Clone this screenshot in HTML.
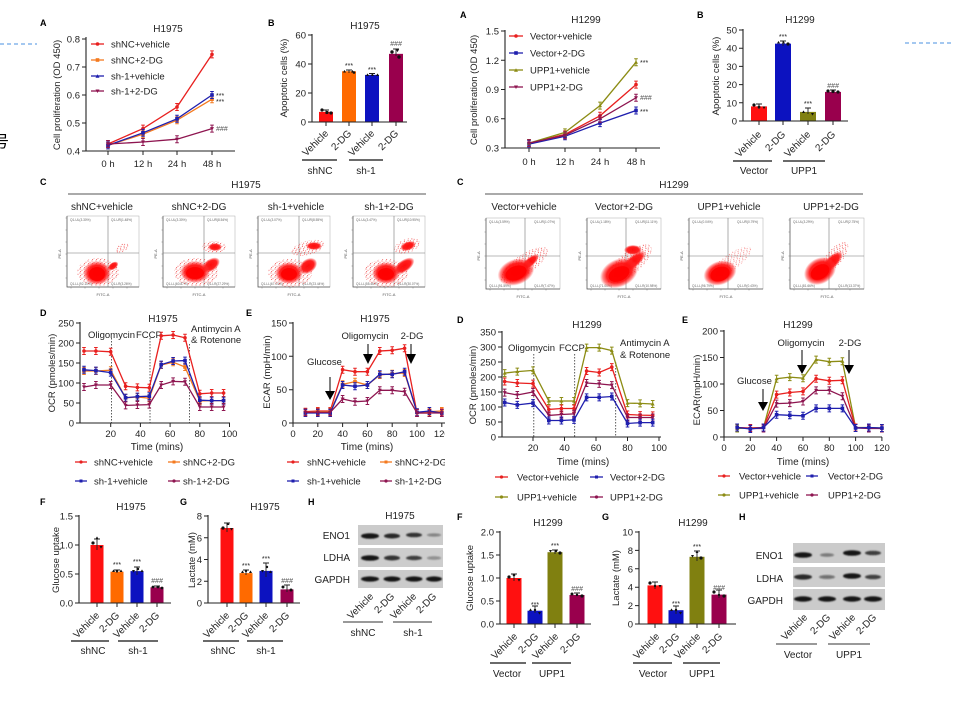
<!DOCTYPE html>
<html><head><meta charset="utf-8"><style>
html,body{margin:0;padding:0;background:#fff;}
svg{display:block;}
text{font-family:"Liberation Sans","Noto Sans CJK SC",sans-serif;fill:#222;}
.t{font-size:10px;}
.tk{font-size:9.5px;}
.lg{font-size:9.5px;}
.pl{font-size:9px;font-weight:bold;fill:#000;}
.st{font-size:7px;}
.hs{font-size:7px;font-style:italic;fill:#555;}
.ax{fill:none;stroke:#222;stroke-width:1.1;}
.q{font-size:3.2px;fill:#666;}
.fa{font-size:4px;fill:#555;}
</style></head><body>
<svg width="953" height="704" viewBox="0 0 953 704" xmlns="http://www.w3.org/2000/svg">
<defs>
<marker id="mR" markerUnits="userSpaceOnUse" markerWidth="10" markerHeight="12" refX="5" refY="6" overflow="visible"><path d="M5,2.5V9.5M3.2,2.5H6.8M3.2,9.5H6.8" stroke="#e8201f" stroke-width="1" fill="none"/><circle cx="5" cy="6" r="1.8" fill="#e8201f"/></marker>
<marker id="mO" markerUnits="userSpaceOnUse" markerWidth="10" markerHeight="12" refX="5" refY="6" overflow="visible"><path d="M5,2.5V9.5M3.2,2.5H6.8M3.2,9.5H6.8" stroke="#f47a1f" stroke-width="1" fill="none"/><rect x="3.2" y="4.2" width="3.6" height="3.6" fill="#f47a1f"/></marker>
<marker id="mB" markerUnits="userSpaceOnUse" markerWidth="10" markerHeight="12" refX="5" refY="6" overflow="visible"><path d="M5,2.5V9.5M3.2,2.5H6.8M3.2,9.5H6.8" stroke="#1f1fae" stroke-width="1" fill="none"/><rect x="3.2" y="4.2" width="3.6" height="3.6" fill="#1f1fae"/></marker>
<marker id="mM" markerUnits="userSpaceOnUse" markerWidth="10" markerHeight="12" refX="5" refY="6" overflow="visible"><path d="M5,2.5V9.5M3.2,2.5H6.8M3.2,9.5H6.8" stroke="#8e1550" stroke-width="1" fill="none"/><path d="M3,4.5H7L5,8z" fill="#8e1550"/></marker>
<marker id="mG" markerUnits="userSpaceOnUse" markerWidth="10" markerHeight="12" refX="5" refY="6" overflow="visible"><path d="M5,2.5V9.5M3.2,2.5H6.8M3.2,9.5H6.8" stroke="#8c8c14" stroke-width="1" fill="none"/><path d="M3,7.5H7L5,4z" fill="#8c8c14"/></marker>
<radialGradient id="blob"><stop offset="0" stop-color="#ff0a0a" stop-opacity="1"/><stop offset="0.65" stop-color="#ff1414" stop-opacity="0.95"/><stop offset="0.85" stop-color="#ff2a2a" stop-opacity="0.55"/><stop offset="1" stop-color="#ff4040" stop-opacity="0"/></radialGradient>
<pattern id="spk" width="4" height="4" patternUnits="userSpaceOnUse"><circle cx="1" cy="1" r="0.5" fill="#e22"/><circle cx="3" cy="2.2" r="0.45" fill="#e22"/><circle cx="1.7" cy="3.5" r="0.45" fill="#e22"/></pattern>
<filter id="bl" x="-20%" y="-50%" width="140%" height="200%"><feGaussianBlur stdDeviation="0.9"/></filter>
<clipPath id="cl"><rect x="0" y="295" width="445" height="210"/></clipPath>
<clipPath id="cl2"><rect x="0" y="495" width="443" height="209"/></clipPath>
</defs>

<!-- misc -->
<line x1="0" y1="44" x2="37" y2="44" stroke="#4a90e2" stroke-width="1" stroke-dasharray="4,3"/>
<line x1="905" y1="43" x2="953" y2="43" stroke="#4a90e2" stroke-width="1" stroke-dasharray="4,3"/>
<text x="-7" y="147" style="font-size:16px;fill:#000">号</text>

<!-- ============ A H1975 ============ -->
<text class="pl" x="40" y="26">A</text>
<text class="t" x="168" y="32" text-anchor="middle">H1975</text>
<path class="ax" d="M86,37V151H235"/>
<g stroke="#222" stroke-width="1"><path d="M82,39H86M82,67H86M82,95H86M82,123H86M82,151H86M108,151V155M143,151V155M177,151V155M212,151V155"/></g>
<g class="tk" text-anchor="end"><text x="80" y="42.5">0.8</text><text x="80" y="70.5">0.7</text><text x="80" y="98.5">0.6</text><text x="80" y="126.5">0.5</text><text x="80" y="154.5">0.4</text></g>
<g class="tk" text-anchor="middle"><text x="108" y="167">0 h</text><text x="143" y="167">12 h</text><text x="177" y="167">24 h</text><text x="212" y="167">48 h</text></g>
<text class="tk" transform="translate(60,95) rotate(-90)" text-anchor="middle">Cell proliferation (OD 450)</text>
<g fill="none" stroke-width="1.3">
<polyline points="108,144 143,128.6 177,107 212,54.4" stroke="#e8201f" marker-start="url(#mR)" marker-mid="url(#mR)" marker-end="url(#mR)"/>
<polyline points="108,145.4 143,134.2 177,120.2 212,99.2" stroke="#f47a1f" marker-start="url(#mO)" marker-mid="url(#mO)" marker-end="url(#mO)"/>
<polyline points="108,145.4 143,132.8 177,118.8 212,95" stroke="#1f1fae" marker-start="url(#mB)" marker-mid="url(#mB)" marker-end="url(#mB)"/>
<polyline points="108,144 143,142 177,139.2 212,128.6" stroke="#8e1550" marker-start="url(#mM)" marker-mid="url(#mM)" marker-end="url(#mM)"/>
</g>
<g stroke-width="1.3">
<line x1="91" y1="44" x2="104" y2="44" stroke="#e8201f"/><circle cx="97.5" cy="44" r="1.8" fill="#e8201f"/>
<line x1="91" y1="60" x2="104" y2="60" stroke="#f47a1f"/><rect x="95.7" y="58.2" width="3.6" height="3.6" fill="#f47a1f"/>
<line x1="91" y1="76" x2="104" y2="76" stroke="#1f1fae"/><path d="M95.5,77.8H99.5L97.5,74.2z" fill="#1f1fae"/>
<line x1="91" y1="91" x2="104" y2="91" stroke="#8e1550"/><path d="M95.5,89.5H99.5L97.5,93z" fill="#8e1550"/>
</g>
<g class="lg"><text x="111" y="47.5">shNC+vehicle</text><text x="111" y="63.5">shNC+2-DG</text><text x="111" y="79.5">sh-1+vehicle</text><text x="111" y="94.5">sh-1+2-DG</text></g>
<text class="st" x="216" y="98">***</text><text class="st" x="216" y="104">***</text><text class="hs" x="216" y="131">###</text>

<!-- ============ B H1975 ============ -->
<text class="pl" x="268" y="26">B</text>
<text class="t" x="365" y="29" text-anchor="middle">H1975</text>
<rect x="319" y="111.9" width="14" height="10.1" fill="#ff1010"/>
<rect x="342" y="71.25" width="14" height="50.75" fill="#ff6a00"/>
<rect x="365" y="74.9" width="14" height="47.1" fill="#0c12c0"/>
<rect x="389" y="53.85" width="14" height="68.15" fill="#99004d"/>
<g stroke="#222" stroke-width="0.9" fill="none"><path d="M326,110V114M323,110H329M349,70V73M346,70H352M372,73.5V76M369,73.5H375M396,49V56M393,49H399"/></g>
<g fill="#111"><circle cx="322" cy="110" r="1.6"/><circle cx="327" cy="112.5" r="1.6"/><circle cx="331" cy="113" r="1.6"/><path d="M343,72.5h3l-1.5,-2.6z"/><path d="M351,72.5h3l-1.5,-2.6z"/><circle cx="354" cy="72.5" r="1.3"/><path d="M366,76h3l-1.5,-2.6z"/><path d="M371,76h3l-1.5,-2.6z"/><path d="M376,76h3l-1.5,-2.6z"/><circle cx="392" cy="52" r="1.7"/><path d="M396,49.5h3l-1.5,2.6z"/><circle cx="399" cy="57" r="1.7"/></g>
<path class="ax" d="M312,34V122H407"/>
<g stroke="#222" stroke-width="1"><path d="M308,35H312M308,64H312M308,93H312M308,122H312M326,122V126M349,122V126M372,122V126M396,122V126"/></g>
<g class="tk" text-anchor="end"><text x="306" y="38.5">60</text><text x="306" y="67.5">40</text><text x="306" y="96.5">20</text><text x="306" y="125.5">0</text></g>
<text class="tk" transform="translate(287,78) rotate(-90)" text-anchor="middle">Apoptotic cells (%)</text>
<g class="t" text-anchor="end"><text transform="translate(329,134) rotate(-45)">Vehicle</text><text transform="translate(352,134) rotate(-45)">2-DG</text><text transform="translate(375,134) rotate(-45)">Vehicle</text><text transform="translate(399,134) rotate(-45)">2-DG</text></g>
<g stroke="#111" stroke-width="1.2"><line x1="302" y1="160" x2="337" y2="160"/><line x1="349" y1="160" x2="383" y2="160"/></g>
<g class="t" text-anchor="middle"><text x="320" y="174">shNC</text><text x="366" y="174">sh-1</text></g>
<text class="st" x="349" y="68" text-anchor="middle">***</text><text class="st" x="372" y="72" text-anchor="middle">***</text><text class="hs" x="396" y="46" text-anchor="middle">###</text>

<!-- ============ A H1299 ============ -->
<text class="pl" x="460" y="18">A</text>
<text class="t" x="586" y="23" text-anchor="middle">H1299</text>
<path class="ax" d="M505,30V148H660"/>
<g stroke="#222" stroke-width="1"><path d="M501,31H505M501,60.25H505M501,89.5H505M501,118.75H505M501,148H505M529,148V152M565,148V152M600,148V152M636,148V152"/></g>
<g class="tk" text-anchor="end"><text x="499" y="34.5">1.5</text><text x="499" y="63.75">1.2</text><text x="499" y="93">0.9</text><text x="499" y="122.25">0.6</text><text x="499" y="151.5">0.3</text></g>
<g class="tk" text-anchor="middle"><text x="529" y="165">0 h</text><text x="565" y="165">12 h</text><text x="600" y="165">24 h</text><text x="636" y="165">48 h</text></g>
<text class="tk" transform="translate(477,90) rotate(-90)" text-anchor="middle">Cell proliferation (OD 450)</text>
<g fill="none" stroke-width="1.3">
<polyline points="529,143.1 565,134.35 600,115.8 636,84.6" stroke="#e8201f" marker-start="url(#mR)" marker-mid="url(#mR)" marker-end="url(#mR)"/>
<polyline points="529,144.1 565,136.3 600,123.1 636,110.5" stroke="#1f1fae" marker-start="url(#mB)" marker-mid="url(#mB)" marker-end="url(#mB)"/>
<polyline points="529,143.1 565,132.4 600,105.6 636,62.2" stroke="#8c8c14" marker-start="url(#mG)" marker-mid="url(#mG)" marker-end="url(#mG)"/>
<polyline points="529,143.1 565,135.3 600,118.75 636,97.8" stroke="#8e1550" marker-start="url(#mM)" marker-mid="url(#mM)" marker-end="url(#mM)"/>
</g>
<g stroke-width="1.3">
<line x1="509" y1="36" x2="523" y2="36" stroke="#e8201f"/><circle cx="516" cy="36" r="1.8" fill="#e8201f"/>
<line x1="509" y1="53" x2="523" y2="53" stroke="#1f1fae"/><rect x="514.2" y="51.2" width="3.6" height="3.6" fill="#1f1fae"/>
<line x1="509" y1="70" x2="523" y2="70" stroke="#8c8c14"/><path d="M514,71.8H518L516,68.2z" fill="#8c8c14"/>
<line x1="509" y1="87" x2="523" y2="87" stroke="#8e1550"/><path d="M514,85.5H518L516,89z" fill="#8e1550"/>
</g>
<g class="lg"><text x="530" y="39.5">Vector+vehicle</text><text x="530" y="56.5">Vector+2-DG</text><text x="530" y="73.5">UPP1+vehicle</text><text x="530" y="90.5">UPP1+2-DG</text></g>
<text class="st" x="640" y="65">***</text><text class="hs" x="640" y="100">###</text><text class="st" x="640" y="114">***</text>

<!-- ============ B H1299 ============ -->
<text class="pl" x="697" y="18">B</text>
<text class="t" x="800" y="23" text-anchor="middle">H1299</text>
<rect x="751" y="106.4" width="16" height="14.6" fill="#ff1010"/>
<rect x="775" y="43.65" width="16" height="77.35" fill="#0c12c0"/>
<rect x="800" y="111.9" width="16" height="9.1" fill="#808010"/>
<rect x="825" y="91.9" width="16" height="29.1" fill="#99004d"/>
<g stroke="#222" stroke-width="0.9" fill="none"><path d="M759,104V109M756,104H762M783,41V46M780,41H786M808,108V114M805,108H811M833,90V93M830,90H836"/></g>
<g fill="#111"><circle cx="754" cy="105" r="1.6"/><circle cx="759" cy="107" r="1.4"/><path d="M762.5,106.5h3l-1.5,2.6z"/><path d="M777,43.5h3l-1.5,-2.6z"/><path d="M782,43.5h3l-1.5,-2.6z"/><circle cx="788" cy="44" r="1.6"/><path d="M802,113h3l-1.5,-2.6z"/><path d="M811,113h3l-1.5,2.6z"/><circle cx="828" cy="91" r="1.6"/><circle cx="833" cy="91.5" r="1.6"/><circle cx="838" cy="92" r="1.6"/></g>
<path class="ax" d="M743,29V121H848"/>
<g stroke="#222" stroke-width="1"><path d="M739,30H743M739,48.2H743M739,66.4H743M739,84.6H743M739,102.8H743M739,121H743M759,121V125M783,121V125M808,121V125M833,121V125"/></g>
<g class="tk" text-anchor="end"><text x="737" y="33.5">50</text><text x="737" y="51.7">40</text><text x="737" y="69.9">30</text><text x="737" y="88.1">20</text><text x="737" y="106.3">10</text><text x="737" y="124.5">0</text></g>
<text class="tk" transform="translate(719,76) rotate(-90)" text-anchor="middle">Apoptotic cells (%)</text>
<g class="t" text-anchor="end"><text transform="translate(762,135) rotate(-45)">Vehicle</text><text transform="translate(786,135) rotate(-45)">2-DG</text><text transform="translate(811,135) rotate(-45)">Vehicle</text><text transform="translate(836,135) rotate(-45)">2-DG</text></g>
<g stroke="#111" stroke-width="1.2"><line x1="733" y1="161" x2="772" y2="161"/><line x1="783" y1="161" x2="825" y2="161"/></g>
<g class="t" text-anchor="middle"><text x="754" y="174">Vector</text><text x="804" y="174">UPP1</text></g>
<text class="st" x="783" y="39" text-anchor="middle">***</text><text class="st" x="808" y="106" text-anchor="middle">***</text><text class="hs" x="833" y="88" text-anchor="middle">###</text>

<!-- ============ C H1975 ============ -->
<text class="pl" x="40" y="185">C</text>
<text class="t" x="246" y="188" text-anchor="middle">H1975</text>
<line x1="68" y1="194" x2="426" y2="194" stroke="#555" stroke-width="1"/>
<g class="t" text-anchor="middle"><text x="102" y="210">shNC+vehicle</text><text x="199" y="210">shNC+2-DG</text><text x="296" y="210">sh-1+vehicle</text><text x="389" y="210">sh-1+2-DG</text></g>

<!-- box 1 -->
<g transform="translate(67,216)">
<rect x="0" y="0" width="72" height="71" fill="none" stroke="#aaa" stroke-width="0.5"/>
<path d="M0,0V71H72" fill="none" stroke="#555" stroke-width="0.7"/>
<path d="M41,0V71M0,37H72" stroke="#777" stroke-width="0.6"/>
<path d="M-1.5,2H0M-1.5,14H0M-1.5,26H0M-1.5,38H0M-1.5,50H0M-1.5,62H0M4,71V72.5M18,71V72.5M32,71V72.5M46,71V72.5M60,71V72.5" stroke="#777" stroke-width="0.5"/>
<text class="q" x="3" y="5">Q1-UL(3.30%)</text><text class="q" x="44" y="5">Q1-UR(1.48%)</text><text class="q" x="3" y="69">Q1-LL(92.10%)</text><text class="q" x="44" y="69">Q1-LR(3.26%)</text>
<text class="fa" x="36" y="80" text-anchor="middle">FITC-A</text><text class="fa" transform="translate(-6,38) rotate(-90)" text-anchor="middle">PE-A</text>
<ellipse cx="55" cy="32" rx="7" ry="4" fill="url(#spk)" transform="rotate(-30 55 32)"/>
<ellipse cx="46" cy="50" rx="6" ry="3.5" fill="url(#blob)" transform="rotate(-35 46 50)"/>
<ellipse cx="31" cy="56" rx="21" ry="14" fill="url(#spk)"/>
<ellipse cx="30" cy="57" rx="14" ry="12" fill="url(#blob)"/>
<ellipse cx="30" cy="58" rx="8" ry="7" fill="#f00" opacity="0.9"/>
</g>
<!-- box 2 -->
<g transform="translate(163,216)">
<rect x="0" y="0" width="72" height="71" fill="none" stroke="#aaa" stroke-width="0.5"/>
<path d="M0,0V71H72" fill="none" stroke="#555" stroke-width="0.7"/>
<path d="M41,0V71M0,37H72" stroke="#777" stroke-width="0.6"/>
<path d="M-1.5,2H0M-1.5,14H0M-1.5,26H0M-1.5,38H0M-1.5,50H0M-1.5,62H0M4,71V72.5M18,71V72.5M32,71V72.5M46,71V72.5M60,71V72.5" stroke="#777" stroke-width="0.5"/>
<text class="q" x="3" y="5">Q1-UL(3.30%)</text><text class="q" x="44" y="5">Q1-UR(8.54%)</text><text class="q" x="3" y="69">Q1-LL(60.87%)</text><text class="q" x="44" y="69">Q1-LR(27.29%)</text>
<text class="fa" x="36" y="80" text-anchor="middle">FITC-A</text><text class="fa" transform="translate(-6,38) rotate(-90)" text-anchor="middle">PE-A</text>
<ellipse cx="51" cy="31" rx="12" ry="6" fill="url(#spk)"/>
<ellipse cx="52" cy="31" rx="7" ry="4" fill="url(#blob)"/>
<ellipse cx="48" cy="49" rx="10" ry="6" fill="url(#blob)" transform="rotate(-35 48 49)"/>
<ellipse cx="33" cy="56" rx="22" ry="14" fill="url(#spk)"/>
<ellipse cx="32" cy="56" rx="15" ry="11" fill="url(#blob)"/>
<ellipse cx="32" cy="57" rx="9" ry="6" fill="#f00" opacity="0.9"/>
</g>
<!-- box 3 -->
<g transform="translate(258,216)">
<rect x="0" y="0" width="72" height="71" fill="none" stroke="#aaa" stroke-width="0.5"/>
<path d="M0,0V71H72" fill="none" stroke="#555" stroke-width="0.7"/>
<path d="M41,0V71M0,37H72" stroke="#777" stroke-width="0.6"/>
<path d="M-1.5,2H0M-1.5,14H0M-1.5,26H0M-1.5,38H0M-1.5,50H0M-1.5,62H0M4,71V72.5M18,71V72.5M32,71V72.5M46,71V72.5M60,71V72.5" stroke="#777" stroke-width="0.5"/>
<text class="q" x="3" y="5">Q1-UL(3.07%)</text><text class="q" x="44" y="5">Q1-UR(8.55%)</text><text class="q" x="3" y="69">Q1-LL(67.04%)</text><text class="q" x="44" y="69">Q1-LR(23.44%)</text>
<text class="fa" x="36" y="80" text-anchor="middle">FITC-A</text><text class="fa" transform="translate(-6,38) rotate(-90)" text-anchor="middle">PE-A</text>
<ellipse cx="50" cy="32" rx="17" ry="7" fill="url(#spk)" transform="rotate(-15 50 32)"/>
<ellipse cx="56" cy="30" rx="8" ry="4" fill="url(#blob)"/>
<ellipse cx="50" cy="50" rx="10" ry="7" fill="url(#blob)" transform="rotate(-35 50 50)"/>
<ellipse cx="32" cy="57" rx="22" ry="14" fill="url(#spk)"/>
<ellipse cx="31" cy="57" rx="14" ry="11" fill="url(#blob)"/>
<ellipse cx="31" cy="58" rx="8" ry="6" fill="#f00" opacity="0.9"/>
</g>
<!-- box 4 -->
<g transform="translate(353,216)">
<rect x="0" y="0" width="72" height="71" fill="none" stroke="#aaa" stroke-width="0.5"/>
<path d="M0,0V71H72" fill="none" stroke="#555" stroke-width="0.7"/>
<path d="M41,0V71M0,37H72" stroke="#777" stroke-width="0.6"/>
<path d="M-1.5,2H0M-1.5,14H0M-1.5,26H0M-1.5,38H0M-1.5,50H0M-1.5,62H0M4,71V72.5M18,71V72.5M32,71V72.5M46,71V72.5M60,71V72.5" stroke="#777" stroke-width="0.5"/>
<text class="q" x="3" y="5">Q1-UL(3.47%)</text><text class="q" x="44" y="5">Q1-UR(10.95%)</text><text class="q" x="3" y="69">Q1-LL(55.46%)</text><text class="q" x="44" y="69">Q1-LR(30.07%)</text>
<text class="fa" x="36" y="80" text-anchor="middle">FITC-A</text><text class="fa" transform="translate(-6,38) rotate(-90)" text-anchor="middle">PE-A</text>
<ellipse cx="54" cy="30" rx="13" ry="7" fill="url(#spk)" transform="rotate(-20 54 30)"/>
<ellipse cx="55" cy="30" rx="8" ry="4.5" fill="url(#blob)" transform="rotate(-20 55 30)"/>
<ellipse cx="51" cy="50" rx="12" ry="6" fill="url(#blob)" transform="rotate(-35 51 50)"/>
<ellipse cx="33" cy="57" rx="22" ry="14" fill="url(#spk)"/>
<ellipse cx="33" cy="57" rx="14" ry="11" fill="url(#blob)"/>
<ellipse cx="33" cy="58" rx="8" ry="6" fill="#f00" opacity="0.9"/>
</g>

<!-- ============ C H1299 ============ -->
<text class="pl" x="457" y="185">C</text>
<text class="t" x="674" y="188" text-anchor="middle">H1299</text>
<line x1="485" y1="194" x2="863" y2="194" stroke="#555" stroke-width="1"/>
<g class="t" text-anchor="middle"><text x="524" y="210">Vector+vehicle</text><text x="624" y="210">Vector+2-DG</text><text x="729" y="210">UPP1+vehicle</text><text x="831" y="210">UPP1+2-DG</text></g>
<g transform="translate(486,218)">
<rect x="0" y="0" width="74" height="71" fill="none" stroke="#aaa" stroke-width="0.5"/>
<path d="M0,0V71H74" fill="none" stroke="#555" stroke-width="0.7"/>
<path d="M39,0V71M0,38H74" stroke="#777" stroke-width="0.6"/>
<path d="M-1.5,2H0M-1.5,14H0M-1.5,26H0M-1.5,38H0M-1.5,50H0M-1.5,62H0M4,71V72.5M18,71V72.5M32,71V72.5M46,71V72.5M60,71V72.5" stroke="#777" stroke-width="0.5"/>
<text class="q" x="3" y="5">Q1-UL(3.59%)</text><text class="q" x="48" y="5">Q1-UR(1.07%)</text><text class="q" x="3" y="69">Q1-LL(91.59%)</text><text class="q" x="48" y="69">Q1-LR(7.47%)</text>
<text class="fa" x="37" y="80" text-anchor="middle">FITC-A</text><text class="fa" transform="translate(-6,38) rotate(-90)" text-anchor="middle">PE-A</text>
<ellipse cx="38" cy="47" rx="28" ry="10" fill="url(#spk)" transform="rotate(-35 38 47)"/>
<ellipse cx="44" cy="44" rx="11" ry="4.5" fill="url(#blob)" transform="rotate(-40 44 44)"/>
<ellipse cx="30" cy="54" rx="19" ry="13" fill="url(#blob)" transform="rotate(-20 30 54)"/>
<ellipse cx="30" cy="55" rx="11" ry="7" fill="#f00" opacity="0.9" transform="rotate(-20 30 55)"/>
</g>
<g transform="translate(587,218)">
<rect x="0" y="0" width="74" height="71" fill="none" stroke="#aaa" stroke-width="0.5"/>
<path d="M0,0V71H74" fill="none" stroke="#555" stroke-width="0.7"/>
<path d="M39,0V71M0,38H74" stroke="#777" stroke-width="0.6"/>
<path d="M-1.5,2H0M-1.5,14H0M-1.5,26H0M-1.5,38H0M-1.5,50H0M-1.5,62H0M4,71V72.5M18,71V72.5M32,71V72.5M46,71V72.5M60,71V72.5" stroke="#777" stroke-width="0.5"/>
<text class="q" x="3" y="5">Q1-UL(1.18%)</text><text class="q" x="48" y="5">Q1-UR(11.11%)</text><text class="q" x="3" y="69">Q1-LL(71.00%)</text><text class="q" x="48" y="69">Q1-LR(10.98%)</text>
<text class="fa" x="37" y="80" text-anchor="middle">FITC-A</text><text class="fa" transform="translate(-6,38) rotate(-90)" text-anchor="middle">PE-A</text>
<ellipse cx="46" cy="32" rx="9" ry="5" fill="url(#blob)"/>
<ellipse cx="42" cy="46" rx="28" ry="11" fill="url(#spk)" transform="rotate(-40 42 46)"/>
<ellipse cx="46" cy="44" rx="16" ry="6" fill="url(#blob)" transform="rotate(-40 46 44)"/>
<ellipse cx="32" cy="55" rx="20" ry="14" fill="url(#blob)" transform="rotate(-25 32 55)"/>
<ellipse cx="32" cy="56" rx="11" ry="7" fill="#f00" opacity="0.9" transform="rotate(-25 32 56)"/>
</g>
<g transform="translate(689,218)">
<rect x="0" y="0" width="74" height="71" fill="none" stroke="#aaa" stroke-width="0.5"/>
<path d="M0,0V71H74" fill="none" stroke="#555" stroke-width="0.7"/>
<path d="M39,0V71M0,38H74" stroke="#777" stroke-width="0.6"/>
<path d="M-1.5,2H0M-1.5,14H0M-1.5,26H0M-1.5,38H0M-1.5,50H0M-1.5,62H0M4,71V72.5M18,71V72.5M32,71V72.5M46,71V72.5M60,71V72.5" stroke="#777" stroke-width="0.5"/>
<text class="q" x="3" y="5">Q1-UL(0.04%)</text><text class="q" x="48" y="5">Q1-UR(0.79%)</text><text class="q" x="3" y="69">Q1-LL(96.79%)</text><text class="q" x="48" y="69">Q1-LR(0.43%)</text>
<text class="fa" x="37" y="80" text-anchor="middle">FITC-A</text><text class="fa" transform="translate(-6,38) rotate(-90)" text-anchor="middle">PE-A</text>
<ellipse cx="42" cy="44" rx="24" ry="8" fill="url(#spk)" transform="rotate(-35 42 44)" opacity="0.7"/>
<ellipse cx="31" cy="55" rx="17" ry="12" fill="url(#blob)" transform="rotate(-20 31 55)"/>
<ellipse cx="31" cy="56" rx="10" ry="7" fill="#f00" opacity="0.9" transform="rotate(-20 31 56)"/>
</g>
<g transform="translate(790,218)">
<rect x="0" y="0" width="74" height="71" fill="none" stroke="#aaa" stroke-width="0.5"/>
<path d="M0,0V71H74" fill="none" stroke="#555" stroke-width="0.7"/>
<path d="M39,0V71M0,38H74" stroke="#777" stroke-width="0.6"/>
<path d="M-1.5,2H0M-1.5,14H0M-1.5,26H0M-1.5,38H0M-1.5,50H0M-1.5,62H0M4,71V72.5M18,71V72.5M32,71V72.5M46,71V72.5M60,71V72.5" stroke="#777" stroke-width="0.5"/>
<text class="q" x="3" y="5">Q1-UL(3.29%)</text><text class="q" x="48" y="5">Q1-UR(2.75%)</text><text class="q" x="3" y="69">Q1-LL(81.66%)</text><text class="q" x="48" y="69">Q1-LR(13.37%)</text>
<text class="fa" x="37" y="80" text-anchor="middle">FITC-A</text><text class="fa" transform="translate(-6,38) rotate(-90)" text-anchor="middle">PE-A</text>
<ellipse cx="44" cy="40" rx="20" ry="8" fill="url(#spk)" transform="rotate(-50 44 40)"/>
<ellipse cx="42" cy="44" rx="14" ry="6" fill="url(#blob)" transform="rotate(-45 42 44)"/>
<ellipse cx="30" cy="53" rx="17" ry="13" fill="url(#blob)" transform="rotate(-30 30 53)"/>
<ellipse cx="30" cy="54" rx="10" ry="7" fill="#f00" opacity="0.9" transform="rotate(-30 30 54)"/>
</g>

<!-- ============ D / E H1975 ============ -->
<g clip-path="url(#cl)">
<text class="pl" x="40" y="316">D</text>
<text class="t" x="163" y="322" text-anchor="middle">H1975</text>
<path class="ax" d="M80,322V423H230"/>
<g stroke="#222" stroke-width="1"><path d="M76,323H80M76,343H80M76,363H80M76,383H80M76,403H80M76,423H80M110.7,423V427M140.4,423V427M170.1,423V427M199.8,423V427M229.5,423V427"/></g>
<g class="tk" text-anchor="end"><text x="74" y="326.5">250</text><text x="74" y="346.5">200</text><text x="74" y="366.5">150</text><text x="74" y="386.5">100</text><text x="74" y="406.5">50</text><text x="74" y="426.5">0</text></g>
<g class="tk" text-anchor="middle"><text x="110.7" y="437">20</text><text x="140.4" y="437">40</text><text x="170.1" y="437">60</text><text x="199.8" y="437">80</text><text x="229.5" y="437">100</text></g>
<text class="t" x="157" y="450" text-anchor="middle">Time (mins)</text>
<text class="tk" transform="translate(55,373) rotate(-90)" text-anchor="middle">OCR (pmoles/min)</text>
<g stroke="#333" stroke-width="0.8" stroke-dasharray="1.5,1.5"><line x1="111.4" y1="338" x2="111.4" y2="423"/><line x1="150" y1="338" x2="150" y2="423"/><line x1="189.4" y1="344" x2="189.4" y2="423"/></g>
<g class="tk"><text x="88" y="338">Oligomycin</text><text x="136" y="338">FCCP</text><text x="191" y="332">Antimycin A</text><text x="191" y="343">&amp; Rotenone</text></g>
<g fill="none" stroke-width="1.3">
<polyline points="84,351 95.9,351 110.7,351.8 125.6,386.2 137.4,387.4 149.3,387.8 161.2,335.8 173.1,335 185,337.8 199.8,393.8 211.7,393 223.6,393" stroke="#e8201f" marker-start="url(#mR)" marker-mid="url(#mR)" marker-end="url(#mR)"/>
<polyline points="84,371 95.9,371 110.7,370.2 125.6,397.8 137.4,397 149.3,398.2 161.2,365 173.1,362.2 185,367 199.8,401 211.7,400.6 223.6,400.6" stroke="#f47a1f" marker-start="url(#mO)" marker-mid="url(#mO)" marker-end="url(#mO)"/>
<polyline points="84,369.8 95.9,370.6 110.7,372.6 125.6,397.8 137.4,396.6 149.3,396.2 161.2,364.6 173.1,361 185,360.6 199.8,400.2 211.7,400.6 223.6,400.6" stroke="#1f1fae" marker-start="url(#mB)" marker-mid="url(#mB)" marker-end="url(#mB)"/>
<polyline points="84,387 95.9,385 110.7,385 125.6,405.4 137.4,405 149.3,404.6 161.2,385 173.1,381.4 185,381.8 199.8,407 211.7,407 223.6,407" stroke="#8e1550" marker-start="url(#mM)" marker-mid="url(#mM)" marker-end="url(#mM)"/>
</g>
<g stroke-width="1.3">
<line x1="75" y1="462" x2="87" y2="462" stroke="#e8201f"/><circle cx="81" cy="462" r="1.6" fill="#e8201f"/>
<line x1="168" y1="462" x2="180" y2="462" stroke="#f47a1f"/><rect x="172.5" y="460.5" width="3" height="3" fill="#f47a1f"/>
<line x1="75" y1="481" x2="87" y2="481" stroke="#1f1fae"/><rect x="79.5" y="479.5" width="3" height="3" fill="#1f1fae"/>
<line x1="168" y1="481" x2="180" y2="481" stroke="#8e1550"/><circle cx="174" cy="481" r="1.6" fill="#8e1550"/>
</g>
<g class="lg"><text x="94" y="465.5">shNC+vehicle</text><text x="183" y="465.5">shNC+2-DG</text><text x="94" y="484.5">sh-1+vehicle</text><text x="183" y="484.5">sh-1+2-DG</text></g>

<text class="pl" x="246" y="316">E</text>
<text class="t" x="375" y="322" text-anchor="middle">H1975</text>
<path class="ax" d="M293,322V423H446"/>
<g stroke="#222" stroke-width="1"><path d="M289,323H293M289,356.3H293M289,389.7H293M289,423H293M293,423V427M317.8,423V427M342.6,423V427M367.4,423V427M392.2,423V427M417,423V427M441.8,423V427"/></g>
<g class="tk" text-anchor="end"><text x="287" y="326.5">150</text><text x="287" y="359.8">100</text><text x="287" y="393.2">50</text><text x="287" y="426.5">0</text></g>
<g class="tk" text-anchor="middle"><text x="293" y="437">0</text><text x="317.8" y="437">20</text><text x="342.6" y="437">40</text><text x="367.4" y="437">60</text><text x="392.2" y="437">80</text><text x="417" y="437">100</text><text x="441.8" y="437">120</text></g>
<text class="t" x="367" y="450" text-anchor="middle">Time (mins)</text>
<text class="tk" transform="translate(270,372) rotate(-90)" text-anchor="middle">ECAR (mpH/min)</text>
<g class="tk"><text x="307" y="365">Glucose</text><text x="365" y="339" text-anchor="middle">Oligomycin</text><text x="412" y="339" text-anchor="middle">2-DG</text></g>
<g stroke="#000" stroke-width="1"><line x1="330" y1="377" x2="330" y2="392"/><line x1="368" y1="344" x2="368" y2="355"/><line x1="411" y1="344" x2="411" y2="355"/></g>
<g fill="#000"><path d="M325,391H335L330,400z"/><path d="M363,354H373L368,364z"/><path d="M406,354H416L411,364z"/></g>
<g fill="none" stroke-width="1.3">
<polyline points="305.4,411.7 317.8,411 330.2,411 342.6,369.7 355,371.7 367.4,371.7 379.8,351 392.2,350.3 404.6,348.3 417,413 429.4,413 441.8,412.3" stroke="#e8201f" marker-start="url(#mR)" marker-mid="url(#mR)" marker-end="url(#mR)"/>
<polyline points="305.4,412.3 317.8,411.7 330.2,411.7 342.6,384.3 355,381.7 367.4,385 379.8,375 392.2,373.7 404.6,373 417,412.3 429.4,411.7 441.8,411" stroke="#f47a1f" marker-start="url(#mO)" marker-mid="url(#mO)" marker-end="url(#mO)"/>
<polyline points="305.4,413 317.8,413 330.2,413 342.6,385 355,386.3 367.4,385 379.8,374.3 392.2,374.3 404.6,371.7 417,412.3 429.4,411 441.8,413" stroke="#1f1fae" marker-start="url(#mB)" marker-mid="url(#mB)" marker-end="url(#mB)"/>
<polyline points="305.4,412.3 317.8,412.3 330.2,412.3 342.6,399 355,401.7 367.4,401 379.8,390.3 392.2,390.3 404.6,391.7 417,413 429.4,413 441.8,413" stroke="#8e1550" marker-start="url(#mM)" marker-mid="url(#mM)" marker-end="url(#mM)"/>
</g>
<g stroke-width="1.3">
<line x1="287" y1="462" x2="299" y2="462" stroke="#e8201f"/><circle cx="293" cy="462" r="1.6" fill="#e8201f"/>
<line x1="380" y1="462" x2="392" y2="462" stroke="#f47a1f"/><rect x="384.5" y="460.5" width="3" height="3" fill="#f47a1f"/>
<line x1="287" y1="481" x2="299" y2="481" stroke="#1f1fae"/><rect x="291.5" y="479.5" width="3" height="3" fill="#1f1fae"/>
<line x1="380" y1="481" x2="392" y2="481" stroke="#8e1550"/><circle cx="386" cy="481" r="1.6" fill="#8e1550"/>
</g>
<g class="lg"><text x="307" y="465.5">shNC+vehicle</text><text x="395" y="465.5">shNC+2-DG</text><text x="307" y="484.5">sh-1+vehicle</text><text x="395" y="484.5">sh-1+2-DG</text></g>
</g>

<!-- ============ D H1299 ============ -->
<text class="pl" x="457" y="323">D</text>
<text class="t" x="587" y="328" text-anchor="middle">H1299</text>
<path class="ax" d="M502,331V437H661"/>
<g stroke="#222" stroke-width="1"><path d="M498,332H502M498,347H502M498,362H502M498,377H502M498,392H502M498,407H502M498,422H502M498,437H502M533,437V441M564.5,437V441M596,437V441M627.5,437V441M659,437V441"/></g>
<g class="tk" text-anchor="end"><text x="496" y="335.5">350</text><text x="496" y="350.5">300</text><text x="496" y="365.5">250</text><text x="496" y="380.5">200</text><text x="496" y="395.5">150</text><text x="496" y="410.5">100</text><text x="496" y="425.5">50</text><text x="496" y="440.5">0</text></g>
<g class="tk" text-anchor="middle"><text x="533" y="451">20</text><text x="564.5" y="451">40</text><text x="596" y="451">60</text><text x="627.5" y="451">80</text><text x="659" y="451">100</text></g>
<text class="t" x="583" y="465" text-anchor="middle">Time (mins)</text>
<text class="tk" transform="translate(476,385) rotate(-90)" text-anchor="middle">OCR (pmoles/min)</text>
<g stroke="#333" stroke-width="0.8" stroke-dasharray="1.5,1.5"><line x1="533.8" y1="354" x2="533.8" y2="437"/><line x1="574.7" y1="354" x2="574.7" y2="437"/><line x1="615.7" y1="362" x2="615.7" y2="437"/></g>
<g class="tk"><text x="508" y="351">Oligomycin</text><text x="559" y="351">FCCP</text><text x="620" y="346">Antimycin A</text><text x="620" y="358">&amp; Rotenone</text></g>
<g fill="none" stroke-width="1.3">
<polyline points="504.7,373.1 517.3,371.6 533,370.4 548.8,401 561.4,401 574,401 586.6,347.6 599.2,347.6 611.8,350.6 627.5,403.1 640.1,403.4 652.7,404" stroke="#8c8c14" marker-start="url(#mG)" marker-mid="url(#mG)" marker-end="url(#mG)"/>
<polyline points="504.7,381.5 517.3,383 533,383.6 548.8,409.4 561.4,408.5 574,408.5 586.6,371 599.2,372.5 611.8,367.1 627.5,414.5 640.1,415.1 652.7,415.4" stroke="#e8201f" marker-start="url(#mR)" marker-mid="url(#mR)" marker-end="url(#mR)"/>
<polyline points="504.7,392.6 517.3,395 533,392 548.8,415.4 561.4,414.5 574,413.9 586.6,383 599.2,383.9 611.8,385.1 627.5,417.5 640.1,417.5 652.7,417.5" stroke="#8e1550" marker-start="url(#mM)" marker-mid="url(#mM)" marker-end="url(#mM)"/>
<polyline points="504.7,402.5 517.3,404.9 533,403.1 548.8,420.5 561.4,420.5 574,419.9 586.6,397.4 599.2,397.4 611.8,396.5 627.5,423.5 640.1,422.6 652.7,422.6" stroke="#1f1fae" marker-start="url(#mB)" marker-mid="url(#mB)" marker-end="url(#mB)"/>
</g>
<g stroke-width="1.3">
<line x1="495" y1="477" x2="508" y2="477" stroke="#e8201f"/><circle cx="501.5" cy="477" r="1.6" fill="#e8201f"/>
<line x1="590" y1="477" x2="603" y2="477" stroke="#1f1fae"/><rect x="595" y="475.5" width="3" height="3" fill="#1f1fae"/>
<line x1="495" y1="497" x2="508" y2="497" stroke="#8c8c14"/><circle cx="501.5" cy="497" r="1.6" fill="#8c8c14"/>
<line x1="590" y1="497" x2="603" y2="497" stroke="#8e1550"/><circle cx="596.5" cy="497" r="1.6" fill="#8e1550"/>
</g>
<g class="lg"><text x="517" y="480.5">Vector+vehicle</text><text x="610" y="480.5">Vector+2-DG</text><text x="517" y="500.5">UPP1+vehicle</text><text x="610" y="500.5">UPP1+2-DG</text></g>

<!-- ============ E H1299 ============ -->
<text class="pl" x="682" y="323">E</text>
<text class="t" x="798" y="328" text-anchor="middle">H1299</text>
<path class="ax" d="M724,330V437H882"/>
<g stroke="#222" stroke-width="1"><path d="M720,331H724M720,357.5H724M720,384H724M720,410.5H724M720,437H724M724,437V441M750.3,437V441M776.6,437V441M803,437V441M829.3,437V441M855.6,437V441M881.9,437V441"/></g>
<g class="tk" text-anchor="end"><text x="718" y="334.5">200</text><text x="718" y="361">150</text><text x="718" y="387.5">100</text><text x="718" y="414">50</text><text x="718" y="440.5">0</text></g>
<g class="tk" text-anchor="middle"><text x="724" y="451">0</text><text x="750.3" y="451">20</text><text x="776.6" y="451">40</text><text x="803" y="451">60</text><text x="829.3" y="451">80</text><text x="855.6" y="451">100</text><text x="881.9" y="451">120</text></g>
<text class="t" x="803" y="465" text-anchor="middle">Time (mins)</text>
<text class="tk" transform="translate(700,390) rotate(-90)" text-anchor="middle">ECAR(mpH/min)</text>
<g class="tk"><text x="737" y="384">Glucose</text><text x="801" y="346" text-anchor="middle">Oligomycin</text><text x="850" y="346" text-anchor="middle">2-DG</text></g>
<g stroke="#000" stroke-width="1"><line x1="763" y1="389" x2="763" y2="403"/><line x1="802" y1="350" x2="802" y2="366"/><line x1="849" y1="350" x2="849" y2="366"/></g>
<g fill="#000"><path d="M758,402H768L763,411z"/><path d="M797,365H807L802,374z"/><path d="M844,365H854L849,374z"/></g>
<g fill="none" stroke-width="1.3">
<polyline points="737.2,428.5 750.3,428 763.5,427.5 776.6,378.7 789.8,377.1 803,378.2 816.1,359.6 829.3,361.7 842.4,361.2 855.6,427.5 868.8,427.5 881.9,428" stroke="#8c8c14" marker-start="url(#mG)" marker-mid="url(#mG)" marker-end="url(#mG)"/>
<polyline points="737.2,427.5 750.3,428 763.5,427.5 776.6,394.6 789.8,392.5 803,391.4 816.1,378.7 829.3,380.8 842.4,380.3 855.6,427.5 868.8,428 881.9,428.5" stroke="#e8201f" marker-start="url(#mR)" marker-mid="url(#mR)" marker-end="url(#mR)"/>
<polyline points="737.2,427.5 750.3,428.5 763.5,428.5 776.6,403.6 789.8,403.1 803,401.5 816.1,390.4 829.3,390.4 842.4,396.2 855.6,428 868.8,428.5 881.9,428.5" stroke="#8e1550" marker-start="url(#mM)" marker-mid="url(#mM)" marker-end="url(#mM)"/>
<polyline points="737.2,427.5 750.3,429 763.5,427.5 776.6,414.7 789.8,415.3 803,415.8 816.1,408.4 829.3,408.4 842.4,408.4 855.6,428 868.8,427.5 881.9,428" stroke="#1f1fae" marker-start="url(#mB)" marker-mid="url(#mB)" marker-end="url(#mB)"/>
</g>
<g stroke-width="1.3">
<line x1="718" y1="476" x2="730" y2="476" stroke="#e8201f"/><circle cx="724" cy="476" r="1.6" fill="#e8201f"/>
<line x1="806" y1="476" x2="818" y2="476" stroke="#1f1fae"/><rect x="810.5" y="474.5" width="3" height="3" fill="#1f1fae"/>
<line x1="718" y1="495" x2="730" y2="495" stroke="#8c8c14"/><circle cx="724" cy="495" r="1.6" fill="#8c8c14"/>
<line x1="806" y1="495" x2="818" y2="495" stroke="#8e1550"/><circle cx="812" cy="495" r="1.6" fill="#8e1550"/>
</g>
<g class="lg"><text x="739" y="479.5">Vector+vehicle</text><text x="828" y="479.5">Vector+2-DG</text><text x="739" y="498.5">UPP1+vehicle</text><text x="828" y="498.5">UPP1+2-DG</text></g>

<!-- ============ F H1975 ============ -->
<text class="pl" x="40" y="505">F</text>
<text class="t" x="131" y="510" text-anchor="middle">H1975</text>
<rect x="90.5" y="545" width="13" height="58" fill="#ff1010"/>
<rect x="110.5" y="571.7" width="13" height="31.3" fill="#ff6a00"/>
<rect x="130.5" y="571.1" width="13" height="31.9" fill="#0c12c0"/>
<rect x="150.5" y="587.3" width="13" height="15.7" fill="#99004d"/>
<g stroke="#222" stroke-width="0.9" fill="none"><path d="M97,539V550M94,539H100M117,570V573M114,570H120M137,567V575M134,567H140M157,586V588M154,586H160"/></g>
<g fill="#111"><circle cx="93" cy="543" r="1.6"/><path d="M95.5,539h3l-1.5,-2.6z"/><path d="M99.5,546h3l-1.5,2.6z"/><path d="M112,572h3l-1.5,-2.6z"/><circle cx="117" cy="571" r="1.2"/><path d="M119.5,572h3l-1.5,-2.6z"/><path d="M132,570h3l-1.5,2.6z"/><circle cx="138" cy="569" r="1.2"/><path d="M140.5,572h3l-1.5,-2.6z"/><circle cx="153" cy="587" r="1.4"/><circle cx="158" cy="587" r="1.4"/><circle cx="162" cy="588" r="1.4"/></g>
<path class="ax" d="M79,515V603H171"/>
<g stroke="#222" stroke-width="1"><path d="M75,516H79M75,545H79M75,574H79M75,603H79M97,603V607M117,603V607M137,603V607M157,603V607"/></g>
<g class="tk" text-anchor="end"><text x="73" y="519.5">1.5</text><text x="73" y="548.5">1.0</text><text x="73" y="577.5">0.5</text><text x="73" y="606.5">0.0</text></g>
<text class="tk" transform="translate(59,560) rotate(-90)" text-anchor="middle">Glucose uptake</text>
<g class="t" text-anchor="end"><text transform="translate(100,616) rotate(-45)">Vehicle</text><text transform="translate(120,616) rotate(-45)">2-DG</text><text transform="translate(140,616) rotate(-45)">Vehicle</text><text transform="translate(160,616) rotate(-45)">2-DG</text></g>
<g stroke="#111" stroke-width="1.2"><line x1="71" y1="641" x2="109" y2="641"/><line x1="118" y1="641" x2="158" y2="641"/></g>
<g class="t" text-anchor="middle"><text x="93" y="654">shNC</text><text x="138" y="654">sh-1</text></g>
<text class="st" x="117" y="567" text-anchor="middle">***</text><text class="st" x="137" y="564" text-anchor="middle">***</text><text class="hs" x="157" y="583" text-anchor="middle">###</text>

<!-- ============ G H1975 ============ -->
<text class="pl" x="180" y="505">G</text>
<text class="t" x="265" y="510" text-anchor="middle">H1975</text>
<rect x="220.5" y="528" width="13" height="75" fill="#ff1010"/>
<rect x="239.5" y="573.1" width="13" height="29.9" fill="#ff6a00"/>
<rect x="259.5" y="570.9" width="13" height="32.1" fill="#0c12c0"/>
<rect x="280.5" y="589.4" width="13" height="13.6" fill="#99004d"/>
<g stroke="#222" stroke-width="0.9" fill="none"><path d="M227,523V532M224,523H230M246,570V575M243,570H249M266,563V577M263,563H269M287,585V592M284,585H290"/></g>
<g fill="#111"><circle cx="223" cy="528" r="1.6"/><path d="M226.5,525h3l-1.5,-2.6z"/><path d="M230,528h3l-1.5,2.6z"/><path d="M241,573h3l-1.5,-2.6z"/><circle cx="246" cy="571" r="1.2"/><path d="M249,573h3l-1.5,-2.6z"/><path d="M261,570h3l-1.5,2.6z"/><circle cx="267" cy="567" r="1.2"/><path d="M269,573h3l-1.5,-2.6z"/><circle cx="283" cy="587" r="1.5"/><circle cx="291" cy="590" r="1.5"/></g>
<path class="ax" d="M208,515V603H300"/>
<g stroke="#222" stroke-width="1"><path d="M204,516H208M204,537.75H208M204,559.5H208M204,581.25H208M204,603H208M227,603V607M246,603V607M266,603V607M287,603V607"/></g>
<g class="tk" text-anchor="end"><text x="202" y="519.5">8</text><text x="202" y="541.25">6</text><text x="202" y="563">4</text><text x="202" y="584.75">2</text><text x="202" y="606.5">0</text></g>
<text class="tk" transform="translate(195,560) rotate(-90)" text-anchor="middle">Lactate (mM)</text>
<g class="t" text-anchor="end"><text transform="translate(230,616) rotate(-45)">Vehicle</text><text transform="translate(249,616) rotate(-45)">2-DG</text><text transform="translate(269,616) rotate(-45)">Vehicle</text><text transform="translate(290,616) rotate(-45)">2-DG</text></g>
<g stroke="#111" stroke-width="1.2"><line x1="203" y1="641" x2="239" y2="641"/><line x1="247" y1="641" x2="283" y2="641"/></g>
<g class="t" text-anchor="middle"><text x="223" y="654">shNC</text><text x="266" y="654">sh-1</text></g>
<text class="st" x="246" y="568" text-anchor="middle">***</text><text class="st" x="266" y="561" text-anchor="middle">***</text><text class="hs" x="287" y="583" text-anchor="middle">###</text>

<!-- ============ H H1975 ============ -->
<g clip-path="url(#cl2)">
<text class="pl" x="308" y="505">H</text>
<text class="t" x="400" y="519" text-anchor="middle">H1975</text>
<rect x="358" y="525" width="86" height="20" fill="#cbcbcb"/>
<rect x="358" y="548" width="86" height="19" fill="#cdcdcd"/>
<rect x="358" y="570" width="86" height="18" fill="#cbcbcb"/>
<g filter="url(#bl)" fill="#151515">
<ellipse cx="370" cy="536" rx="9" ry="2.8"/><ellipse cx="392" cy="536" rx="8" ry="2.5" opacity="0.9"/><ellipse cx="414" cy="535" rx="8" ry="2.3" opacity="0.85"/><ellipse cx="434" cy="535" rx="7" ry="1.6" opacity="0.4"/>
<ellipse cx="370" cy="558" rx="9" ry="2.8"/><ellipse cx="392" cy="558" rx="8" ry="2.5" opacity="0.85"/><ellipse cx="414" cy="558" rx="8" ry="2.2" opacity="0.8"/><ellipse cx="434" cy="558" rx="7" ry="1.8" opacity="0.35"/>
<ellipse cx="370" cy="579" rx="9" ry="2.6"/><ellipse cx="392" cy="579" rx="8.5" ry="2.6"/><ellipse cx="414" cy="579" rx="8.5" ry="2.6"/><ellipse cx="434" cy="579" rx="8" ry="2.6"/>
</g>
</g>
<g class="t" text-anchor="end"><text x="350" y="539">ENO1</text><text x="350" y="561">LDHA</text><text x="350" y="583">GAPDH</text></g>
<g class="t" text-anchor="end"><text transform="translate(374,597) rotate(-45)">Vehicle</text><text transform="translate(395,597) rotate(-45)">2-DG</text><text transform="translate(417,597) rotate(-45)">Vehicle</text><text transform="translate(437,597) rotate(-45)">2-DG</text></g>
<g stroke="#333" stroke-width="1"><line x1="343" y1="622" x2="383" y2="622"/><line x1="393" y1="622" x2="432" y2="622"/></g>
<g class="t" text-anchor="middle"><text x="363" y="636">shNC</text><text x="413" y="636">sh-1</text></g>

<!-- ============ F H1299 ============ -->
<text class="pl" x="457" y="520">F</text>
<text class="t" x="548" y="526" text-anchor="middle">H1299</text>
<rect x="506.5" y="578" width="15" height="46" fill="#ff1010"/>
<rect x="527.5" y="610.7" width="15" height="13.3" fill="#0c12c0"/>
<rect x="547.5" y="552.2" width="15" height="71.8" fill="#808010"/>
<rect x="569.5" y="595" width="15" height="29" fill="#99004d"/>
<g stroke="#222" stroke-width="0.9" fill="none"><path d="M514,574V581M511,574H517M535,606V613M532,606H538M555,550V554M552,550H558M577,593V596M574,593H580"/></g>
<g fill="#111"><circle cx="509" cy="577" r="1.6"/><circle cx="514" cy="575" r="1.3"/><path d="M517.5,579h3l-1.5,2.6z"/><path d="M529,611h3l-1.5,-2.6z"/><circle cx="535" cy="610" r="1.2"/><path d="M538,612h3l-1.5,2.6z"/><path d="M549,550h3l-1.5,2.6z"/><circle cx="556" cy="551" r="1.2"/><circle cx="560" cy="553" r="1.6"/><circle cx="572" cy="594" r="1.5"/><circle cx="577" cy="595" r="1.2"/><circle cx="582" cy="596" r="1.6"/></g>
<path class="ax" d="M500,531V624H591"/>
<g stroke="#222" stroke-width="1"><path d="M496,532H500M496,555H500M496,578H500M496,601H500M496,624H500M514,624V628M535,624V628M555,624V628M577,624V628"/></g>
<g class="tk" text-anchor="end"><text x="494" y="535.5">2.0</text><text x="494" y="558.5">1.5</text><text x="494" y="581.5">1.0</text><text x="494" y="604.5">0.5</text><text x="494" y="627.5">0.0</text></g>
<text class="tk" transform="translate(473,578) rotate(-90)" text-anchor="middle">Glucose uptake</text>
<g class="t" text-anchor="end"><text transform="translate(518,637) rotate(-45)">Vehicle</text><text transform="translate(539,637) rotate(-45)">2-DG</text><text transform="translate(559,637) rotate(-45)">Vehicle</text><text transform="translate(581,637) rotate(-45)">2-DG</text></g>
<g stroke="#111" stroke-width="1.2"><line x1="490" y1="663" x2="526" y2="663"/><line x1="532" y1="663" x2="571" y2="663"/></g>
<g class="t" text-anchor="middle"><text x="507" y="677">Vector</text><text x="552" y="677">UPP1</text></g>
<text class="st" x="535" y="607" text-anchor="middle">***</text><text class="st" x="555" y="548" text-anchor="middle">***</text><text class="hs" x="577" y="591" text-anchor="middle">###</text>

<!-- ============ G H1299 ============ -->
<text class="pl" x="602" y="520">G</text>
<text class="t" x="693" y="526" text-anchor="middle">H1299</text>
<rect x="647.5" y="585.4" width="15" height="38.6" fill="#ff1010"/>
<rect x="668.5" y="610.2" width="15" height="13.8" fill="#0c12c0"/>
<rect x="689.5" y="556.8" width="15" height="67.2" fill="#808010"/>
<rect x="711.5" y="594.6" width="15" height="29.4" fill="#99004d"/>
<g stroke="#222" stroke-width="0.9" fill="none"><path d="M655,582V589M652,582H658M676,606V614M673,606H679M697,551V561M694,551H700M719,590V598M716,590H722"/></g>
<g fill="#111"><circle cx="650" cy="583" r="1.6"/><circle cx="655" cy="586" r="1.2"/><path d="M658.5,585h3l-1.5,2.6z"/><path d="M670,611h3l-1.5,-2.6z"/><circle cx="676" cy="610" r="1.2"/><path d="M679,612h3l-1.5,2.6z"/><path d="M691,555h3l-1.5,2.6z"/><path d="M695.5,553h3l-1.5,-2.6z"/><circle cx="701" cy="558" r="1.6"/><circle cx="714" cy="592" r="1.6"/><circle cx="719" cy="595" r="1.2"/><circle cx="724" cy="596" r="1.6"/></g>
<path class="ax" d="M639,531V624H736"/>
<g stroke="#222" stroke-width="1"><path d="M635,532H639M635,550.4H639M635,568.8H639M635,587.2H639M635,605.6H639M635,624H639M655,624V628M676,624V628M697,624V628M719,624V628"/></g>
<g class="tk" text-anchor="end"><text x="633" y="535.5">10</text><text x="633" y="553.9">8</text><text x="633" y="572.3">6</text><text x="633" y="590.7">4</text><text x="633" y="609.1">2</text><text x="633" y="627.5">0</text></g>
<text class="tk" transform="translate(619,578) rotate(-90)" text-anchor="middle">Lactate (mM)</text>
<g class="t" text-anchor="end"><text transform="translate(660,637) rotate(-45)">Vehicle</text><text transform="translate(680,637) rotate(-45)">2-DG</text><text transform="translate(701,637) rotate(-45)">Vehicle</text><text transform="translate(723,637) rotate(-45)">2-DG</text></g>
<g stroke="#111" stroke-width="1.2"><line x1="633" y1="663" x2="672" y2="663"/><line x1="683" y1="663" x2="720" y2="663"/></g>
<g class="t" text-anchor="middle"><text x="653" y="677">Vector</text><text x="702" y="677">UPP1</text></g>
<text class="st" x="676" y="606" text-anchor="middle">***</text><text class="st" x="697" y="549" text-anchor="middle">***</text><text class="hs" x="719" y="590" text-anchor="middle">###</text>

<!-- ============ H H1299 ============ -->
<text class="pl" x="739" y="520">H</text>
<rect x="793" y="543" width="92" height="20" fill="#cbcbcb"/>
<rect x="793" y="567" width="92" height="20" fill="#cdcdcd"/>
<rect x="793" y="589" width="92" height="21" fill="#cbcbcb"/>
<g filter="url(#bl)" fill="#151515">
<ellipse cx="803" cy="555" rx="9" ry="2.8"/><ellipse cx="827" cy="555" rx="7" ry="1.8" opacity="0.45"/><ellipse cx="852" cy="553" rx="9" ry="2.8"/><ellipse cx="873" cy="553" rx="8" ry="2.3" opacity="0.8"/>
<ellipse cx="803" cy="577" rx="9" ry="2.6" opacity="0.9"/><ellipse cx="827" cy="577" rx="8" ry="2" opacity="0.5"/><ellipse cx="852" cy="576" rx="9" ry="2.8"/><ellipse cx="873" cy="577" rx="8" ry="2.3" opacity="0.75"/>
<ellipse cx="803" cy="599" rx="9" ry="2.7"/><ellipse cx="827" cy="599" rx="9" ry="2.7"/><ellipse cx="852" cy="599" rx="9" ry="2.7"/><ellipse cx="873" cy="599" rx="9" ry="2.7"/>
</g>
<g class="t" text-anchor="end"><text x="783" y="559">ENO1</text><text x="783" y="582">LDHA</text><text x="783" y="604">GAPDH</text></g>
<g class="t" text-anchor="end"><text transform="translate(808,618) rotate(-45)">Vehicle</text><text transform="translate(831,618) rotate(-45)">2-DG</text><text transform="translate(856,618) rotate(-45)">Vehicle</text><text transform="translate(877,618) rotate(-45)">2-DG</text></g>
<g stroke="#333" stroke-width="1"><line x1="776" y1="644" x2="817" y2="644"/><line x1="828" y1="644" x2="870" y2="644"/></g>
<g class="t" text-anchor="middle"><text x="798" y="658">Vector</text><text x="849" y="658">UPP1</text></g>
</svg>
</body></html>
